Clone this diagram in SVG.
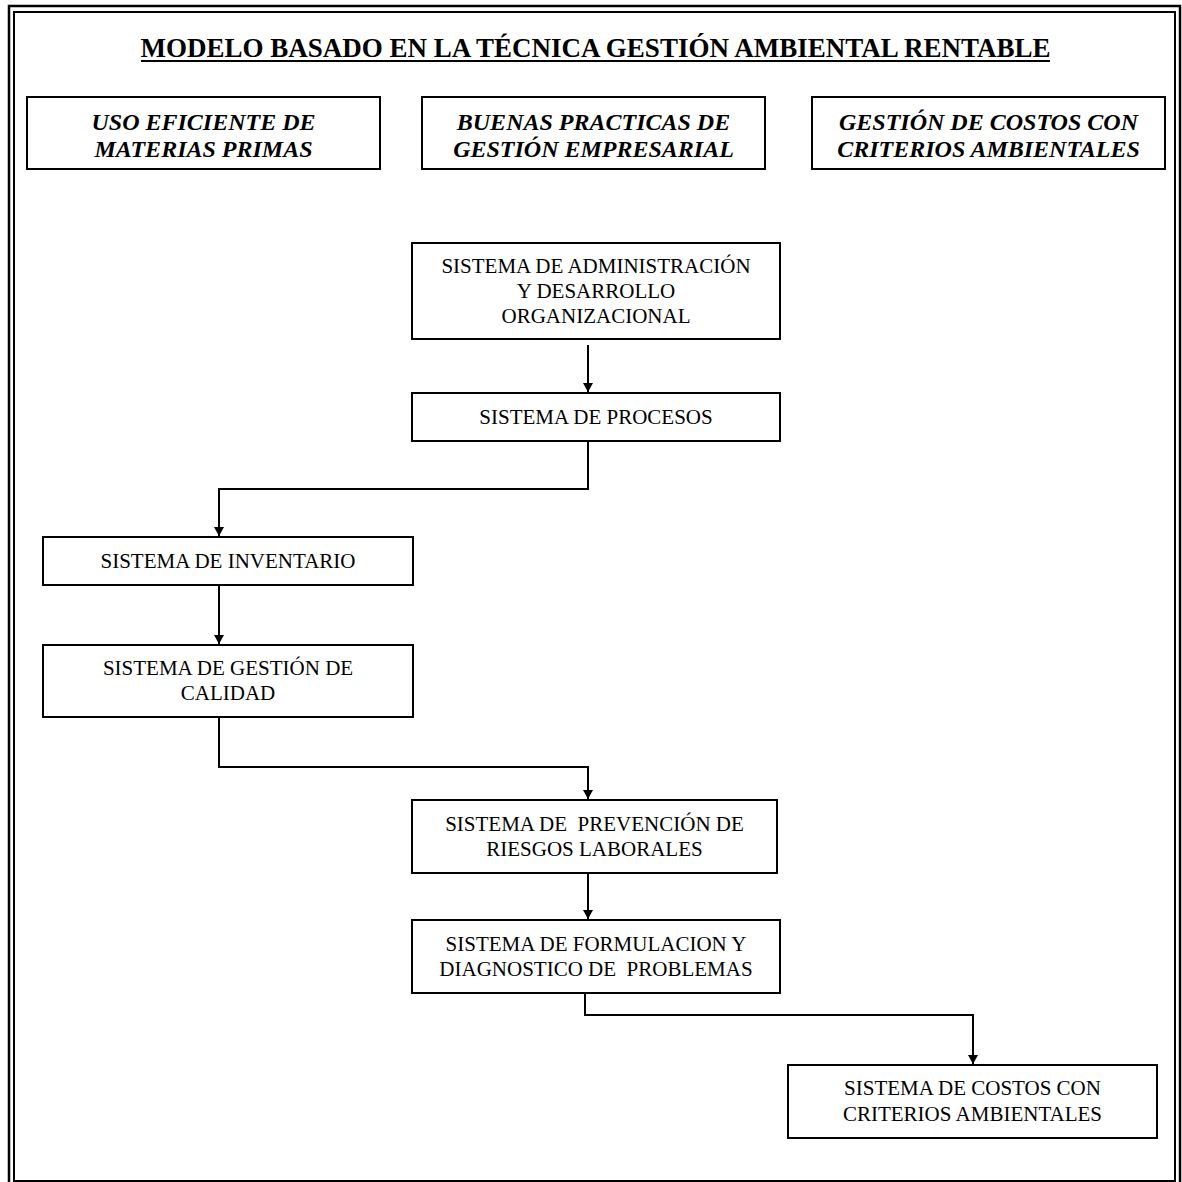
<svg xmlns="http://www.w3.org/2000/svg" width="1182" height="1182" viewBox="0 0 1182 1182">
  <style>
    .frame { fill: none; stroke: #000; }
    .box { fill: #fff; stroke: #000; stroke-width: 2; }
    .hdr { font-family: "Liberation Serif", "Times New Roman", serif; font-size: 24px; font-weight: bold; font-style: italic; text-anchor: middle; fill: #000; }
    .lbl { font-family: "Liberation Serif", "Times New Roman", serif; font-size: 21px; text-anchor: middle; fill: #000; }
    .title { font-family: "Liberation Serif", "Times New Roman", serif; font-size: 27px; font-weight: bold; text-anchor: middle; fill: #000; }
    .link { fill: none; stroke: #000; stroke-width: 2; marker-end: url(#arrow); }
  </style>
  <defs>
    <marker id="arrow" viewBox="0 0 10 11" refX="10" refY="5.5" markerWidth="11" markerHeight="10" markerUnits="userSpaceOnUse" orient="auto">
      <path d="M0,0 L10,5.5 L0,11 Z" fill="#000"/>
    </marker>
  </defs>

  <rect width="1182" height="1182" fill="#fff"/>

  <!-- double page frame -->
  <rect class="frame" x="9" y="6" width="1171" height="1190" stroke-width="2.5"/>
  <rect class="frame" x="14" y="12" width="1161" height="1169" stroke-width="2"/>

  <!-- title -->
  <g id="title">
    <text class="title" x="595.5" y="57">MODELO BASADO EN LA TÉCNICA GESTIÓN AMBIENTAL RENTABLE</text>
    <line x1="141" y1="61" x2="1050" y2="61" stroke="#000" stroke-width="2"/>
  </g>

  <!-- header boxes -->
  <g id="uso-eficiente">
    <rect class="box" x="27" y="97" width="353" height="72"/>
    <text class="hdr" x="203.5" y="130">USO EFICIENTE DE</text>
    <text class="hdr" x="203.5" y="157">MATERIAS PRIMAS</text>
  </g>
  <g id="buenas-practicas">
    <rect class="box" x="422" y="97" width="343" height="72"/>
    <text class="hdr" x="593.5" y="130">BUENAS PRACTICAS DE</text>
    <text class="hdr" x="593.5" y="157">GESTIÓN EMPRESARIAL</text>
  </g>
  <g id="gestion-costos">
    <rect class="box" x="812" y="97" width="353" height="72"/>
    <text class="hdr" x="988.5" y="130">GESTIÓN DE COSTOS CON</text>
    <text class="hdr" x="988.5" y="157">CRITERIOS AMBIENTALES</text>
  </g>

  <!-- connectors -->
  <g id="connectors">
    <path class="link" d="M588,345 V392"/>
    <path class="link" d="M588,441 V489 H219 V536"/>
    <path class="link" d="M219,585 V644"/>
    <path class="link" d="M219,717 V767 H588 V799"/>
    <path class="link" d="M588,873 V919"/>
    <path class="link" d="M585,993 V1015 H973 V1064"/>
  </g>

  <!-- process nodes -->
  <g id="administracion">
    <rect class="box" x="412" y="243" width="368" height="96"/>
    <text class="lbl" x="596" y="273">SISTEMA DE ADMINISTRACIÓN</text>
    <text class="lbl" x="596" y="298">Y DESARROLLO</text>
    <text class="lbl" x="596" y="323">ORGANIZACIONAL</text>
  </g>
  <g id="procesos">
    <rect class="box" x="412" y="393" width="368" height="48"/>
    <text class="lbl" x="596" y="424">SISTEMA DE PROCESOS</text>
  </g>
  <g id="inventario">
    <rect class="box" x="43" y="537" width="370" height="48"/>
    <text class="lbl" x="228" y="568">SISTEMA DE INVENTARIO</text>
  </g>
  <g id="calidad">
    <rect class="box" x="43" y="645" width="370" height="72"/>
    <text class="lbl" x="228" y="675">SISTEMA DE GESTIÓN DE</text>
    <text class="lbl" x="228" y="700">CALIDAD</text>
  </g>
  <g id="riesgos">
    <rect class="box" x="412" y="800" width="365" height="73"/>
    <text class="lbl" x="594.5" y="831" xml:space="preserve">SISTEMA DE  PREVENCIÓN DE</text>
    <text class="lbl" x="594.5" y="856">RIESGOS LABORALES</text>
  </g>
  <g id="diagnostico">
    <rect class="box" x="412" y="920" width="368" height="73"/>
    <text class="lbl" x="596" y="951">SISTEMA DE FORMULACION Y</text>
    <text class="lbl" x="596" y="976" xml:space="preserve">DIAGNOSTICO DE  PROBLEMAS</text>
  </g>
  <g id="costos-ambientales">
    <rect class="box" x="788" y="1065" width="369" height="73"/>
    <text class="lbl" x="972.5" y="1095">SISTEMA DE COSTOS CON</text>
    <text class="lbl" x="972.5" y="1121">CRITERIOS AMBIENTALES</text>
  </g>
</svg>
